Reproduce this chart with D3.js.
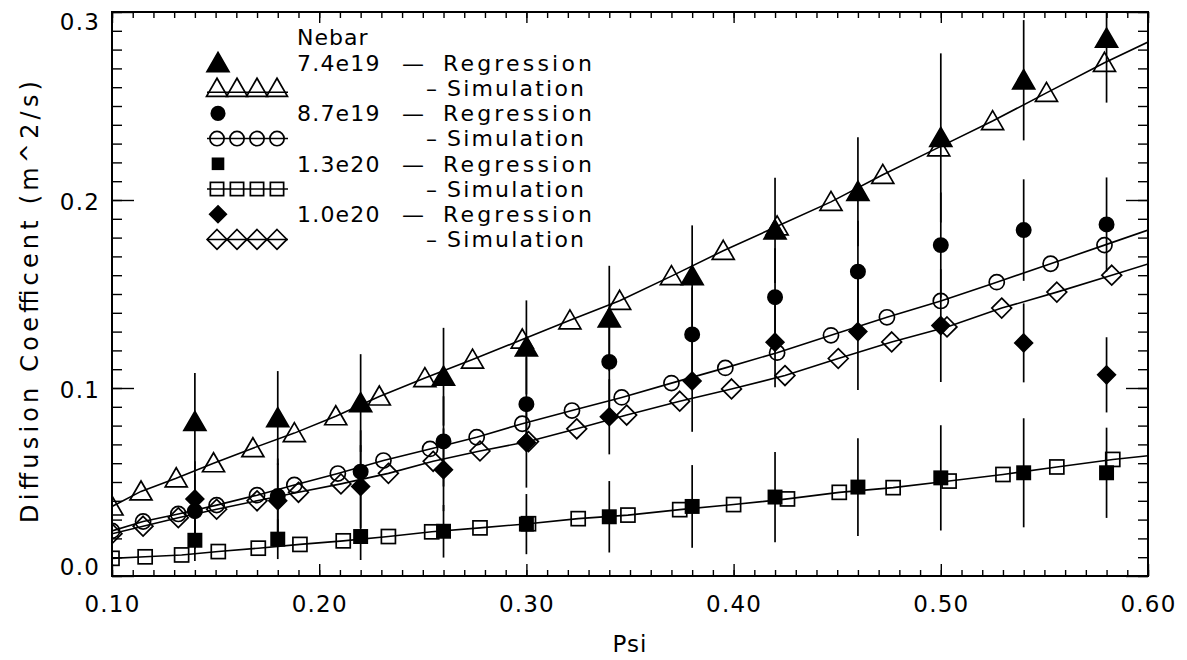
<!DOCTYPE html>
<html><head><meta charset="utf-8">
<script src="https://cdn.jsdelivr.net/npm/d3@7"></script>
<style>
body{margin:0;background:#fff}
text{font-family:"DejaVu Sans",sans-serif;fill:#000}
</style>
</head><body>
<svg id="c" width="1187" height="660"></svg>
<script>
// ---- data ----
const regPsi = [0.14,0.18,0.22,0.26,0.30,0.34,0.38,0.42,0.46,0.50,0.54,0.58];
const reg74 = [0.082,0.084,0.092,0.106,0.1216,0.137,0.1595,0.1838,0.2044,0.233,0.2637,0.2858];
const err74 = [0.026,0.025,0.026,0.026,0.025,0.028,0.027,0.028,0.029,0.045,0.032,0.034];
const reg87 = [0.0345,0.0425,0.0555,0.0716,0.0914,0.1139,0.1285,0.1483,0.1619,0.176,0.184,0.187];
const err87 = [0.020,0.020,0.022,0.024,0.025,0.025,0.025,0.026,0.027,0.028,0.027,0.025];
const reg13 = [0.019,0.0196,0.021,0.0238,0.0276,0.0315,0.037,0.042,0.0473,0.0522,0.0549,0.0549];
const err13 = [0.011,0.0106,0.0125,0.014,0.016,0.019,0.022,0.024,0.026,0.028,0.029,0.024];
const reg10 = [0.041,0.040,0.0476,0.0565,0.071,0.0847,0.1037,0.1244,0.130,0.1332,0.124,0.107];
const err10 = [0.020,0.020,0.022,0.022,0.024,0.020,0.027,0.024,0.031,0.030,0.021,0.020];

const simPsi74 = [0.100,0.114,0.131,0.149,0.168,0.188,0.208,0.229,0.251,0.274,0.298,0.321,0.345,0.370,0.395,0.421,0.447,0.472,0.499,0.525,0.551,0.579];
const sim74    = [0.037,0.045,0.052,0.060,0.068,0.076,0.085,0.0955,0.1053,0.1151,0.1258,0.136,0.1464,0.1595,0.173,0.186,0.199,0.2134,0.228,0.242,0.257,0.273];
const simPsi87 = [0.100,0.115,0.132,0.1505,0.170,0.188,0.209,0.231,0.2535,0.276,0.298,0.322,0.346,0.370,0.396,0.421,0.447,0.474,0.500,0.527,0.553,0.579];
const sim87    = [0.024,0.029,0.033,0.0377,0.043,0.0484,0.0545,0.0614,0.0676,0.0738,0.081,0.088,0.095,0.1026,0.1107,0.1188,0.128,0.1376,0.1463,0.1563,0.1661,0.176];
const simPsi13 = [0.100,0.116,0.1336,0.1513,0.1706,0.1907,0.2116,0.2334,0.2543,0.2776,0.301,0.325,0.349,0.374,0.400,0.426,0.451,0.477,0.504,0.530,0.556,0.583];
const sim13    = [0.0094,0.0102,0.0112,0.013,0.0148,0.0168,0.0187,0.021,0.0235,0.0256,0.0278,0.0305,0.0324,0.0353,0.038,0.041,0.0445,0.047,0.0505,0.054,0.058,0.062];
const simPsi10 = [0.100,0.115,0.132,0.1505,0.170,0.190,0.2105,0.2334,0.255,0.2776,0.301,0.3243,0.3484,0.374,0.399,0.4248,0.4505,0.4763,0.503,0.5294,0.556,0.5825];
const sim10    = [0.0225,0.0265,0.031,0.0355,0.040,0.0445,0.049,0.0546,0.061,0.0665,0.0715,0.0783,0.0856,0.093,0.0995,0.1066,0.1157,0.1245,0.1325,0.1425,0.151,0.160];
// curve values at the right edge (Psi = 0.60)
const simEndPsi = 0.60;
const simEnd = {t:0.284, c:0.184, s:0.064, d:0.166};

const xMajor = [0.10,0.20,0.30,0.40,0.50,0.60];
const yMajor = [0.0,0.1,0.2,0.3];
const legendTitle = "Nebar";
const legendDens = ["7.4e19","8.7e19","1.3e20","1.0e20"];

// ---- layout ----
const svg = d3.select("#c");
const L=112, R=1148, T=12, B=576;
const x = d3.scaleLinear().domain([0.10,0.60]).range([L,R]);
const y = d3.scaleLinear().domain([0,0.3]).range([B,T]);

svg.append("rect").attr("width",1187).attr("height",660).attr("fill","#fff");
svg.append("defs").append("clipPath").attr("id","clip")
  .append("rect").attr("x",L).attr("y",T).attr("width",R-L).attr("height",B-T);

// axes
const minorX = d3.range(10,61).map(d=>d/100);
const minorY = d3.range(0,31).map(d=>d/100);
function styleAxis(g){ g.select(".domain").remove(); g.selectAll("line").attr("stroke","#000").attr("stroke-width",1.4); }
svg.append("g").attr("transform",`translate(0,${B})`).call(d3.axisBottom(x).tickValues(minorX).tickSize(-6).tickFormat("")).call(styleAxis);
svg.append("g").attr("transform",`translate(0,${T})`).call(d3.axisTop(x).tickValues(minorX).tickSize(-6).tickFormat("")).call(styleAxis);
svg.append("g").attr("transform",`translate(0,${B})`).call(d3.axisBottom(x).tickValues(xMajor).tickSize(-12).tickPadding(20).tickFormat(d3.format(".2f"))).call(styleAxis);
svg.append("g").attr("transform",`translate(0,${T})`).call(d3.axisTop(x).tickValues(xMajor).tickSize(-11).tickFormat("")).call(styleAxis);
svg.append("g").attr("transform",`translate(${L},0)`).call(d3.axisLeft(y).tickValues(minorY).tickSize(-10).tickFormat("")).call(styleAxis);
svg.append("g").attr("transform",`translate(${R},0)`).call(d3.axisRight(y).tickValues(minorY).tickSize(-10).tickFormat("")).call(styleAxis);
const yl = svg.append("g").attr("transform",`translate(${L},0)`).call(d3.axisLeft(y).tickValues(yMajor).tickSize(-22).tickPadding(12).tickFormat(d3.format(".1f"))).call(styleAxis);
svg.append("g").attr("transform",`translate(${R},0)`).call(d3.axisRight(y).tickValues(yMajor).tickSize(-22).tickFormat("")).call(styleAxis);
svg.selectAll(".tick text").attr("font-size",23).attr("letter-spacing",1.2).attr("font-family","DejaVu Sans").attr("fill","#000");
yl.selectAll(".tick text").attr("dy", d => d===0.3 ? "0.75em" : (d===0 ? "-0.05em" : "0.4em"));

svg.append("rect").attr("x",L).attr("y",T).attr("width",R-L).attr("height",B-T)
  .attr("fill","none").attr("stroke","#000").attr("stroke-width",2);

// axis titles
svg.append("text").attr("x",(L+R)/2).attr("y",652).attr("text-anchor","middle")
  .attr("font-size",23).attr("letter-spacing",1).text("Psi");
svg.append("text").attr("transform",`translate(38,${(T+B)/2+8}) rotate(-90)`).attr("text-anchor","middle")
  .attr("font-size",24).attr("textLength",442).attr("lengthAdjust","spacing")
  .text("Diffusion Coefficent (m^2/s)");

// ---- plot ----
const plot = svg.append("g").attr("clip-path","url(#clip)");

function sym(g, type, cx, cy, filled, s){
  const sw = 1.7;
  if(type==="t"){
    const w=s*1.1, h=s*0.95;
    g.append("path").attr("d",`M${cx},${cy-h*0.55}L${cx+w/2},${cy+h*0.45}L${cx-w/2},${cy+h*0.45}Z`)
     .attr("fill",filled?"#000":"none").attr("stroke","#000").attr("stroke-width",sw);
  } else if(type==="c"){
    g.append("circle").attr("cx",cx).attr("cy",cy).attr("r",s*0.42).attr("fill",filled?"#000":"none").attr("stroke","#000").attr("stroke-width",sw);
  } else if(type==="s"){
    const a=s*0.78;
    g.append("rect").attr("x",cx-a/2).attr("y",cy-a/2).attr("width",a).attr("height",a).attr("fill",filled?"#000":"none").attr("stroke","#000").attr("stroke-width",sw);
  } else {
    const a=s*0.52;
    g.append("path").attr("d",`M${cx},${cy-a}L${cx+a},${cy}L${cx},${cy+a}L${cx-a},${cy}Z`)
     .attr("fill",filled?"#000":"none").attr("stroke","#000").attr("stroke-width",sw);
  }
}

const line = d3.line().x(d=>x(d[0])).y(d=>y(d[1]));
const sims = [
  {k:"t", px:simPsi74, v:sim74},
  {k:"c", px:simPsi87, v:sim87},
  {k:"s", px:simPsi13, v:sim13},
  {k:"d", px:simPsi10, v:sim10}
];
sims.forEach(s=>{
  const pts = s.px.map((p,i)=>[p,s.v[i]]).concat([[simEndPsi, simEnd[s.k]]]);
  plot.append("path").attr("d",line(pts)).attr("fill","none").attr("stroke","#000").attr("stroke-width",1.6);
});

const regs = [
  {k:"t", v:reg74, e:err74},
  {k:"c", v:reg87, e:err87},
  {k:"s", v:reg13, e:err13},
  {k:"d", v:reg10, e:err10}
];
regs.forEach(r=>{
  regPsi.forEach((p,i)=>{
    plot.append("line").attr("x1",x(p)).attr("x2",x(p))
      .attr("y1",y(r.v[i]-r.e[i])).attr("y2",y(Math.min(0.3,r.v[i]+r.e[i])))
      .attr("stroke","#000").attr("stroke-width",1.7);
  });
});
sims.forEach(s=>{
  s.px.forEach((p,i)=> sym(plot, s.k, x(p), y(s.v[i]), false, s.k==="t"?20:(s.k==="d"?19:18)));
});
regs.forEach(r=>{
  regPsi.forEach((p,i)=> sym(plot, r.k, x(p), y(r.v[i]), true, r.k==="t"?20:17));
});

// ---- legend ----
const lg = svg.append("g");
const rowY = i => 63 + 25.2*i;
lg.append("text").attr("x",297).attr("y",37).attr("dy","0.35em").attr("font-size",22).attr("letter-spacing",1).text(legendTitle);
const kinds = ["t","c","s","d"];
kinds.forEach((k,i)=>{
  const ry = rowY(2*i), sy = rowY(2*i+1);
  sym(lg, k, 218, ry, true, k==="t"?20:(k==="s"?14:16));
  lg.append("line").attr("x1",207).attr("x2",288).attr("y1",sy+(k==="t"?4:0)).attr("y2",sy+(k==="t"?4:0)).attr("stroke","#000").attr("stroke-width",1.5);
  [217,237,257,277].forEach(cx=> sym(lg, k, cx, sy, false, k==="t"?19:(k==="d"?19:17)));
  lg.append("text").attr("x",297).attr("y",ry).attr("dy","0.35em").attr("font-size",22).attr("letter-spacing",1.2).text(legendDens[i]);
  lg.append("text").attr("x",402).attr("y",ry).attr("dy","0.35em").attr("font-size",22).text("—");
  lg.append("text").attr("x",443).attr("y",ry).attr("dy","0.35em").attr("font-size",22).attr("textLength",149).attr("lengthAdjust","spacing").text("Regression");
  lg.append("text").attr("x",426).attr("y",sy).attr("dy","0.35em").attr("font-size",22).text("–");
  lg.append("text").attr("x",447).attr("y",sy).attr("dy","0.35em").attr("font-size",22).attr("textLength",137).attr("lengthAdjust","spacing").text("Simulation");
});
</script>
</body></html>
